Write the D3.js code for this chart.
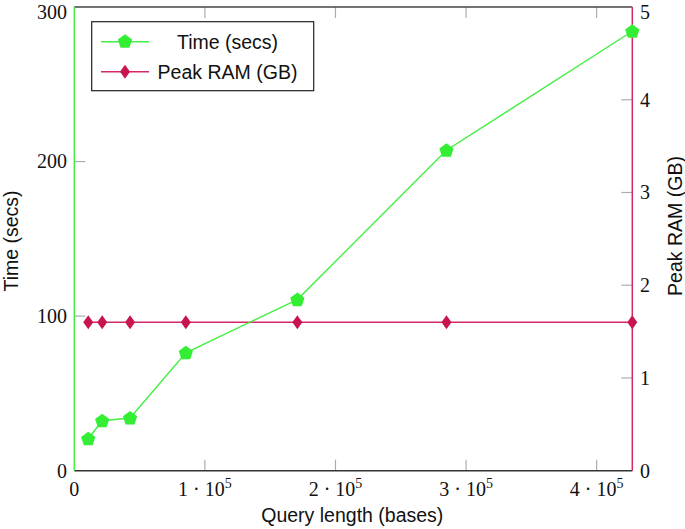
<!DOCTYPE html>
<html>
<head>
<meta charset="utf-8">
<script src="https://cdn.jsdelivr.net/npm/d3@7"></script>
<style>
  html, body { margin: 0; padding: 0; background: #fff; }
  svg { display: block; }
</style>
</head>
<body>
<svg id="chart" width="685" height="529"></svg>
<script>
// ---- data ----
const queryLength = [10680, 21360, 42700, 85400, 170800, 285000, 427300];
const timeSecs    = [20.7, 32.3, 34.1, 76.3, 110.7, 207.3, 284.3];
const peakRamGB   = [1.6, 1.6, 1.6, 1.6, 1.6, 1.6, 1.6];
const xTicks      = [1e5, 2e5, 3e5, 4e5];
const timeTicks   = [0, 100, 200, 300];
const ramTicks    = [0, 1, 2, 3, 4, 5];
const seriesNames = ["Time (secs)", "Peak RAM (GB)"];

// ---- layout ----
const L = 74.3, R = 632.3, T = 7, B = 470.7;
const green = "#44ee44", greenFill = "#33ee33", crimson = "#d4286a", crimsonFill = "#c8154d";
const tickColor = "#a9aeb6";
const serif = "'Liberation Serif', serif", sans = "'Liberation Sans', Arial, sans-serif";

const svg = d3.select("#chart");
const x = d3.scaleLinear().domain([0, d3.max(queryLength)]).range([L, R]);
const yT = d3.scaleLinear().domain([0, 300]).range([B, T]);
const yR = d3.scaleLinear().domain([0, 5]).range([B, T]);

// ticks (inside)
const tickLen = 11;
svg.append("g").selectAll("line").data(xTicks).join("line")
  .attr("x1", d => x(d)).attr("x2", d => x(d)).attr("y1", B).attr("y2", B - tickLen)
  .attr("stroke", tickColor).attr("stroke-width", 1.2);
svg.append("g").selectAll("line").data(xTicks).join("line")
  .attr("x1", d => x(d)).attr("x2", d => x(d)).attr("y1", T).attr("y2", T + tickLen)
  .attr("stroke", tickColor).attr("stroke-width", 1.2);
svg.append("g").selectAll("line").data(timeTicks.filter(d => d > 0 && d < 300)).join("line")
  .attr("x1", L).attr("x2", L + tickLen).attr("y1", d => yT(d)).attr("y2", d => yT(d))
  .attr("stroke", tickColor).attr("stroke-width", 1.2);
svg.append("g").selectAll("line").data(ramTicks.filter(d => d > 0 && d < 5)).join("line")
  .attr("x1", R).attr("x2", R - tickLen).attr("y1", d => yR(d)).attr("y2", d => yR(d))
  .attr("stroke", tickColor).attr("stroke-width", 1.2);

// frame
svg.append("line").attr("x1", L).attr("x2", R).attr("y1", B).attr("y2", B)
  .attr("stroke", "#333").attr("stroke-width", 1.5);
svg.append("line").attr("x1", L).attr("x2", R).attr("y1", T).attr("y2", T)
  .attr("stroke", "#444").attr("stroke-width", 1.3);
svg.append("line").attr("x1", L).attr("x2", L).attr("y1", T).attr("y2", B)
  .attr("stroke", green).attr("stroke-width", 1.5);
svg.append("line").attr("x1", R).attr("x2", R).attr("y1", T).attr("y2", B)
  .attr("stroke", crimson).attr("stroke-width", 1.5);

// tick labels
const xl = svg.append("g").attr("font-family", serif).attr("font-size", 20).attr("fill", "#111");
xl.append("text").attr("x", x(0)).attr("y", 496).attr("text-anchor", "middle").text("0");
xTicks.forEach(d => {
  const t = xl.append("text").attr("x", x(d)).attr("y", 496).attr("text-anchor", "middle");
  t.append("tspan").text((d / 1e5) + " \u00B7 10");
  t.append("tspan").attr("dy", -8).attr("font-size", 14).text("5");
});
// keep the top-most labels fully inside the picture
const labelY = v => Math.max(v, 12);
svg.append("g").attr("font-family", serif).attr("font-size", 20).attr("fill", "#111")
  .selectAll("text").data(timeTicks).join("text")
  .attr("x", 67).attr("y", d => labelY(yT(d))).attr("dy", "0.34em").attr("text-anchor", "end").text(d => d);
svg.append("g").attr("font-family", serif).attr("font-size", 20).attr("fill", "#111")
  .selectAll("text").data(ramTicks).join("text")
  .attr("x", 640).attr("y", d => labelY(yR(d))).attr("dy", "0.34em").attr("text-anchor", "start").text(d => d);

// axis titles
svg.append("text").attr("font-family", sans).attr("font-size", 19.5).attr("fill", "#111")
  .attr("x", (L + R) / 2 - 1).attr("y", 522).attr("text-anchor", "middle").text("Query length (bases)");
svg.append("text").attr("font-family", sans).attr("font-size", 19.5).attr("fill", "#111")
  .attr("transform", "translate(18,241) rotate(-90)").attr("text-anchor", "middle").text("Time (secs)");
svg.append("text").attr("font-family", sans).attr("font-size", 19.5).attr("fill", "#111")
  .attr("transform", "translate(682,226) rotate(-90)").attr("text-anchor", "middle").text("Peak RAM (GB)");

// markers
function pentPath(r) {
  const pts = d3.range(5).map(i => {
    const a = -Math.PI / 2 + i * 2 * Math.PI / 5;
    return [r * Math.cos(a), r * Math.sin(a)];
  });
  return "M" + pts.map(p => p.join(",")).join("L") + "Z";
}
function diamondPath(w, h) {
  return `M0,${-h}L${w},0L0,${h}L${-w},0Z`;
}

const ramLine = d3.line().x((d, i) => x(queryLength[i])).y(d => yR(d));
svg.append("path").attr("d", ramLine(peakRamGB)).attr("fill", "none")
  .attr("stroke", crimson).attr("stroke-width", 1.4);
svg.append("g").selectAll("path").data(peakRamGB).join("path")
  .attr("transform", (d, i) => `translate(${x(queryLength[i])},${yR(d)})`)
  .attr("d", diamondPath(5, 7)).attr("fill", crimsonFill);

const timeLine = d3.line().x((d, i) => x(queryLength[i])).y(d => yT(d));
svg.append("path").attr("d", timeLine(timeSecs)).attr("fill", "none")
  .attr("stroke", green).attr("stroke-width", 1.4);
svg.append("g").selectAll("path").data(timeSecs).join("path")
  .attr("transform", (d, i) => `translate(${x(queryLength[i])},${yT(d) + 0.5})`)
  .attr("d", pentPath(7.5)).attr("fill", greenFill);

// legend
const lg = svg.append("g");
lg.append("rect").attr("x", 91.7).attr("y", 21.7).attr("width", 222).attr("height", 69)
  .attr("fill", "#fff").attr("stroke", "#222").attr("stroke-width", 1.2);
const rows = [
  { name: seriesNames[0], y: 41.7, color: green, fill: greenFill, shape: pentPath(7.5) },
  { name: seriesNames[1], y: 71.7, color: crimson, fill: crimsonFill, shape: diamondPath(5, 7) }
];
rows.forEach(r => {
  lg.append("line").attr("x1", 101).attr("x2", 149).attr("y1", r.y).attr("y2", r.y)
    .attr("stroke", r.color).attr("stroke-width", 1.4);
  lg.append("path").attr("transform", `translate(125,${r.y})`).attr("d", r.shape).attr("fill", r.fill);
  lg.append("text").attr("x", 227.5).attr("y", r.y).attr("dy", "0.36em").attr("text-anchor", "middle")
    .attr("font-family", sans).attr("font-size", 19.5).attr("fill", "#111").text(r.name);
});
</script>
</body>
</html>
